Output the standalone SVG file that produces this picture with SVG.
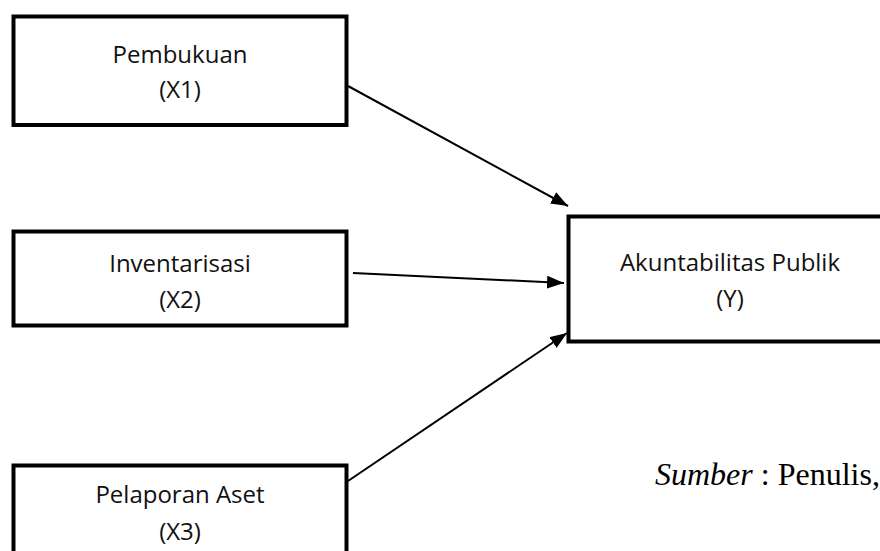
<svg xmlns="http://www.w3.org/2000/svg" width="880" height="551" viewBox="0 0 880 551">
<defs>
<style>
.box{fill:#fff;stroke:#000;stroke-width:4}
.lbl{font-family:"Open Sans","Noto Sans",sans-serif;font-size:24px;fill:#111;text-anchor:middle}
.edge{stroke:#000;stroke-width:2;fill:none}
</style>
<marker id="ah" markerWidth="17" markerHeight="13" refX="17" refY="6.5" orient="auto" markerUnits="userSpaceOnUse">
<path d="M0,0 L17,6.5 L0,13 Z" fill="#000"/>
</marker>
</defs>
<rect width="880" height="551" fill="#fff"/>
<g id="x1">
<rect class="box" x="13.5" y="16.5" width="333" height="108.5"/>
<text class="lbl" x="180" y="63">Pembukuan</text>
<text class="lbl" x="180" y="98">(X1)</text>
</g>
<g id="x2">
<rect class="box" x="13.5" y="231.5" width="333" height="94"/>
<text class="lbl" x="180" y="272">Inventarisasi</text>
<text class="lbl" x="180" y="308">(X2)</text>
</g>
<g id="x3">
<rect class="box" x="13.5" y="465.5" width="333" height="100"/>
<text class="lbl" x="180" y="503">Pelaporan Aset</text>
<text class="lbl" x="180" y="540">(X3)</text>
</g>
<g id="y">
<rect class="box" x="568.5" y="216.5" width="330" height="125"/>
<text class="lbl" x="730" y="271">Akuntabilitas Publik</text>
<text class="lbl" x="730" y="307">(Y)</text>
</g>
<g id="connectors">
<line class="edge" x1="348" y1="86" x2="568" y2="206" marker-end="url(#ah)"/>
<line class="edge" x1="353" y1="273" x2="564" y2="283" marker-end="url(#ah)"/>
<line class="edge" x1="348" y1="481" x2="567" y2="333" marker-end="url(#ah)"/>
</g>
<text x="655" y="485" font-family="Liberation Serif,serif" font-size="32" fill="#000"><tspan font-style="italic">Sumber</tspan> : Penulis,</text>
</svg>
